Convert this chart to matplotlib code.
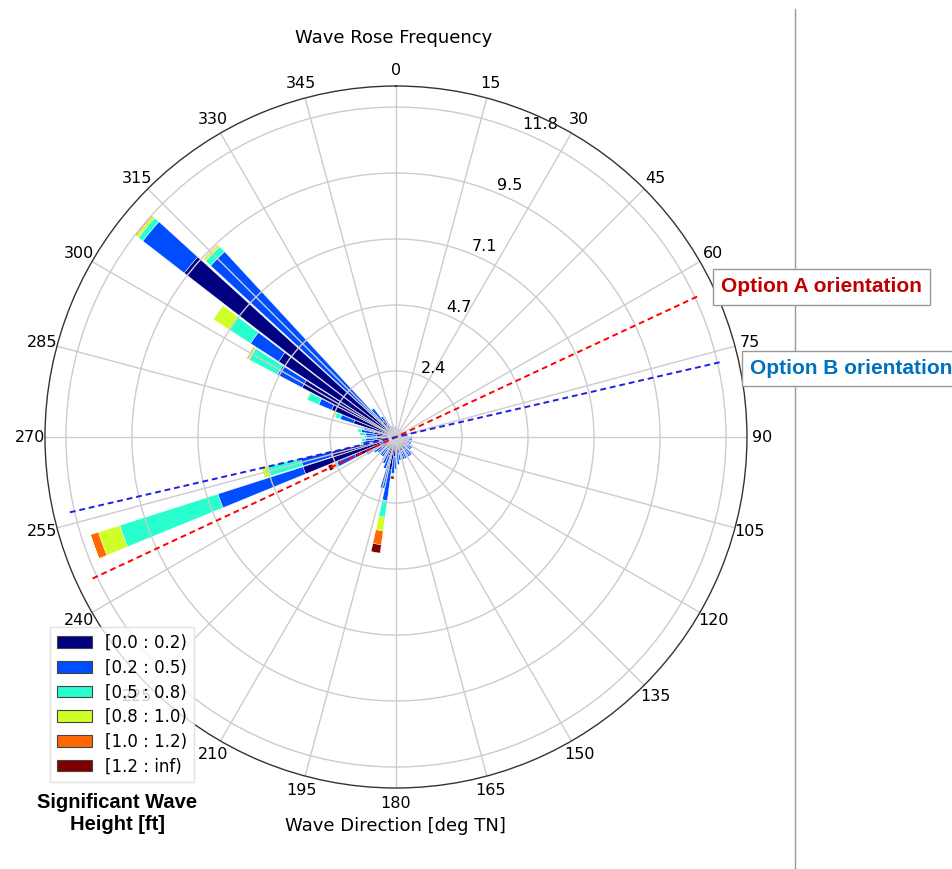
import numpy as np
import matplotlib
matplotlib.use("Agg")
import matplotlib.pyplot as plt
from matplotlib.patches import Patch
from matplotlib.lines import Line2D

# direction bins (deg TN), 5 deg sectors
directions = list(range(0, 360, 5))

height_labels = ['[0.0 : 0.2)', '[0.2 : 0.5)', '[0.5 : 0.8)',
                 '[0.8 : 1.0)', '[1.0 : 1.2)', '[1.2 : inf)']

# frequency (%) per sector for each wave height class
h_00_02 = [0.25, 0.2, 0.2, 0.2, 0.2, 0.2, 0.2, 0.2, 0.2, 0.2, 0.2, 0.2,
           0.3, 0.3, 0.3, 0.3, 0.35, 0.35, 0.4, 0.4, 0.4, 0.4, 0.4, 0.4,
           0.45, 0.45, 0.45, 0.55, 0.55, 0.55, 0.55, 0.55, 0.55, 0.55, 0.55, 0.6,
           0.7, 0.7, 1.2, 0.9, 0.7, 0.6, 0.55, 0.5, 0.5, 0.5, 0.5, 0.6,
           0.8, 1.6, 3.5, 2.4, 0.8, 0.7, 0.7, 0.7, 0.8, 0.8, 1.6, 2.5,
           3.8, 5.0, 9.6, 1.0, 0.7, 0.5, 0.35, 0.3, 0.3, 0.25, 0.25, 0.25]
h_02_05 = [0.15, 0.12, 0.12, 0.12, 0.12, 0.12, 0.12, 0.12, 0.12, 0.12, 0.12, 0.12,
           0.12, 0.12, 0.12, 0.12, 0.12, 0.12, 0.2, 0.2, 0.2, 0.2, 0.2, 0.2,
           0.25, 0.25, 0.25, 0.3, 0.3, 0.3, 0.3, 0.3, 0.3, 0.3, 0.3, 0.4,
           0.45, 0.6, 1.1, 1.0, 0.5, 0.45, 0.4, 0.35, 0.35, 0.35, 0.35, 0.35,
           0.4, 0.7, 3.2, 1.1, 0.4, 0.4, 0.35, 0.4, 0.45, 0.4, 0.5, 0.5,
           1.0, 1.2, 1.88, 8.05, 0.6, 0.4, 0.2, 0.15, 0.15, 0.15, 0.15, 0.15]
h_05_08 = [0, 0, 0, 0, 0, 0, 0, 0, 0, 0, 0, 0,
           0, 0, 0, 0, 0, 0, 0, 0, 0, 0, 0, 0,
           0, 0, 0, 0, 0, 0, 0, 0, 0, 0, 0, 0.02,
           0.02, 0.05, 0.6, 0.02, 0, 0, 0, 0, 0, 0, 0, 0,
           0.02, 0.1, 3.7, 1.2, 0.1, 0.15, 0.1, 0.2, 0.15, 0.1, 0.2, 0.45,
           1.15, 0.9, 0.2, 0.25, 0.05, 0, 0, 0, 0, 0, 0, 0]
h_08_10 = [0, 0, 0, 0, 0, 0, 0, 0, 0, 0, 0, 0,
           0, 0, 0, 0, 0, 0, 0, 0, 0, 0, 0, 0,
           0, 0, 0, 0, 0, 0, 0, 0, 0, 0, 0, 0,
           0, 0.03, 0.5, 0, 0, 0, 0, 0, 0, 0, 0, 0,
           0, 0.05, 0.8, 0.25, 0, 0, 0, 0.03, 0, 0, 0.1, 0.03,
           0.05, 0.7, 0.1, 0.08, 0, 0, 0, 0, 0, 0, 0, 0]
h_10_12 = [0, 0, 0, 0, 0, 0, 0, 0, 0, 0, 0, 0,
           0, 0, 0, 0, 0, 0, 0, 0, 0, 0, 0, 0,
           0, 0, 0, 0, 0, 0, 0, 0, 0, 0, 0, 0,
           0, 0.03, 0.5, 0, 0, 0, 0, 0, 0, 0, 0, 0,
           0, 0.05, 0.3, 0, 0, 0, 0, 0, 0, 0, 0, 0.02,
           0.05, 0, 0.05, 0.04, 0, 0, 0, 0, 0, 0, 0, 0]
h_12_inf = [0, 0, 0, 0, 0, 0, 0, 0, 0, 0, 0, 0,
            0, 0, 0, 0, 0, 0, 0, 0, 0, 0, 0, 0,
            0, 0, 0, 0, 0, 0, 0, 0, 0, 0, 0, 0,
            0, 0.1, 0.3, 0, 0, 0, 0, 0, 0, 0, 0, 0,
            0, 0.15, 0, 0, 0, 0, 0, 0, 0, 0, 0, 0,
            0, 0, 0, 0, 0, 0, 0, 0, 0, 0, 0, 0]

# shoreline orientation options (deg TN)
option_a_dir = 65
option_b_dir = 77
option_len = 12.0

classes = [h_00_02, h_02_05, h_05_08, h_08_10, h_10_12, h_12_inf]
colors = plt.cm.jet(np.linspace(0, 1, len(classes)))

fig = plt.figure(figsize=(9.53, 8.69), dpi=100)
ax = fig.add_axes([0.0472, 0.0932, 0.7366, 0.8078], projection='polar')
ax.set_theta_zero_location('N')
ax.set_theta_direction(-1)

theta = np.radians(directions)
width = np.radians(5) * 0.9
bottom = np.zeros(len(directions))
for vals, c in zip(classes, colors):
    vals = np.array(vals)
    ax.bar(theta, vals, width=width, bottom=bottom, color=c,
           edgecolor='white', linewidth=0.3)
    bottom = bottom + vals

# orientation lines through the centre
for d, c in [(option_a_dir, 'red'), (option_b_dir, '#2020dd')]:
    t1, t2 = np.radians(d), np.radians(d + 180)
    ax.plot([t2, t2, t1, t1], [option_len, 0, 0, option_len], color=c,
            linestyle=(0, (3, 2)), linewidth=1.4, zorder=5)

rmax = bottom.max()
rticks = np.linspace(0, rmax, 6)[1:]
ax.set_rgrids(rticks, labels=['%.1f' % r for r in rticks], angle=22.5,
              fontsize=11.5)
ax.set_ylim(0, rmax * 351 / 330)
ax.set_thetagrids(range(0, 360, 15), labels=[str(a) for a in range(0, 360, 15)],
                  fontsize=11.5)
ax.tick_params(axis='x', pad=0.5)
ax.grid(color='#cccccc', linewidth=1)
ax.spines['polar'].set_color('#333333')
ax.spines['polar'].set_linewidth(1)

fig.text(0.413, 0.956, 'Wave Rose Frequency', ha='center', va='center',
         fontsize=13)
fig.text(0.415, 0.049, 'Wave Direction [deg TN]', ha='center', va='center',
         fontsize=13)

handles = [Patch(facecolor=c, edgecolor='#444444', linewidth=0.8) for c in colors]
fig.legend(handles, height_labels, loc='lower left',
           bbox_to_anchor=(0.0525, 0.1001), borderaxespad=0, fontsize=12,
           handlelength=2.1, handleheight=0.72, labelspacing=0.4,
           handletextpad=0.8, fancybox=False, edgecolor='#dddddd',
           framealpha=0.8)
fig.text(0.1228, 0.064, 'Significant Wave\nHeight [ft]', ha='center',
         va='center', fontsize=14.5, fontweight='bold',
         family='Liberation Sans', linespacing=1.2)

# separator line on the right
fig.add_artist(Line2D([0.834, 0.834], [0, 0.99], color='#999999',
                      linewidth=1, zorder=0))

box = dict(boxstyle='square,pad=0.4', facecolor='white', edgecolor='#999999')
fig.text(0.7566, 0.670, 'Option A orientation', ha='left', va='center',
         fontsize=15, fontweight='bold', family='Liberation Sans',
         color='#C00000', bbox=box, zorder=6)
fig.text(0.787, 0.576, 'Option B orientation', ha='left', va='center',
         fontsize=15, fontweight='bold', family='Liberation Sans',
         color='#0070C0', bbox=box, zorder=6)

fig.savefig('out.png', dpi=100)
